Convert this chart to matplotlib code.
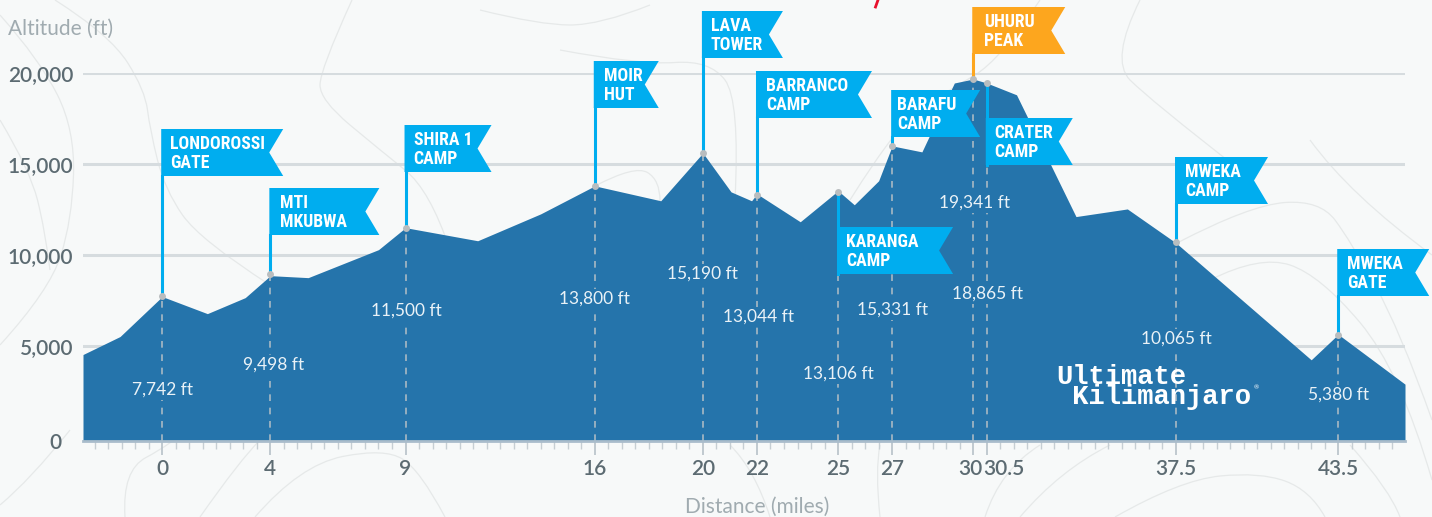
import matplotlib
matplotlib.use('Agg')
import matplotlib.pyplot as plt
from matplotlib.patches import Polygon, PathPatch
from matplotlib.path import Path
from matplotlib.transforms import IdentityTransform

W, H = 1432, 517

# elevation profile
profile_miles = [-2.93, -1.56, 0, 1.67, 3.07, 4, 5.4, 8.0, 9, 11.67, 14, 16, 18.44, 20, 21.04, 21.8,
                 22, 23.6, 25, 25.6, 26.5, 27, 28.1, 29.3, 30, 30.5, 31.6, 33.8, 35.7, 37.5, 42.5, 43.5, 45.97]
profile_ft = [4510, 5500, 7700, 6760, 7640, 8850, 8740, 10280, 11490, 10770, 12250, 13790, 12970, 15600,
              13460, 12970, 13350, 11815, 13520, 12750, 14070, 15990, 15660, 19450, 19670, 19450,
              18800, 12100, 12520, 10650, 4220, 5620, 2880]

# camps
camp_names = ['LONDOROSSI\nGATE', 'MTI\nMKUBWA', 'SHIRA 1\nCAMP', 'MOIR\nHUT', 'LAVA\nTOWER', 'BARRANCO\nCAMP',
              'KARANGA\nCAMP', 'BARAFU\nCAMP', 'UHURU\nPEAK', 'CRATER\nCAMP', 'MWEKA\nCAMP', 'MWEKA\nGATE']
camp_miles = [0, 4, 9, 16, 20, 22, 25, 27, 30, 30.5, 37.5, 43.5]
camp_ft = [7750, 8930, 11490, 13790, 15620, 13300, 13450, 16000, 19670, 19430, 10700, 5600]
camp_labels = ['7,742 ft', '9,498 ft', '11,500 ft', '13,800 ft', '15,190 ft', '13,044 ft',
               '13,106 ft', '15,331 ft', '19,341 ft', '18,865 ft', '10,065 ft', '5,380 ft']

x_tick_miles = camp_miles
x_tick_labels = ['0', '4', '9', '16', '20', '22', '25', '27', '30', '30.5', '37.5', '43.5']
y_ticks = [0, 5000, 10000, 15000, 20000]
y_tick_labels = ['0', '5,000', '10,000', '15,000', '20,000']

# layout, pixels from the top of the image
flag_tops = [129, 188, 125, 61, 11, 71, 227, 90, 7, 118, 157, 249]
flag_widths = [122, 110, 87, 65, 81, 116, 116, 89, 93, 87, 93, 92]
flag_insets = [9, 11, 9, 10, 9, 10, 9, 6, 12, 8, 10, 10]
label_rows = [390, 365, 311, 299, 274, 317, 374, 310, 203, 294, 339, 395]
label_shift = [0, 3, 1, 0, 0, 2, 0, 0, 1, 1, 0, 0]
tick_shift = [0, 0, 0, 0, 0, 0, 0, 0, -3, 17, 0, 0]

# faint contour lines in the background
contours = [
    [(55, 0), (110, 35), (145, 90), (150, 130), (165, 190), (200, 240), (270, 285)],
    [(0, 15), (40, 60), (75, 130), (72, 220), (50, 290), (0, 345)],
    [(0, 120), (30, 170), (45, 230), (50, 270)],
    [(352, 0), (320, 70), (320, 100), (380, 150), (430, 190), (450, 250)],
    [(650, 5), (600, 25), (540, 25), (480, 10)],
    [(560, 50), (640, 65), (710, 60), (740, 100), (735, 200)],
    [(595, 186), (635, 165), (660, 180), (660, 201)],
    [(1140, 0), (1110, 60), (1150, 100), (1240, 170)],
    [(1040, 0), (1000, 60), (950, 90), (900, 120), (850, 200)],
    [(125, 517), (122, 470), (170, 445), (200, 420)],
    [(0, 505), (30, 480), (70, 430)],
    [(255, 517), (300, 465), (385, 448), (420, 470), (445, 517)],
    [(200, 517), (240, 460), (260, 440)],
    [(770, 517), (755, 470), (730, 445)],
    [(880, 517), (875, 470), (880, 445)],
    [(985, 517), (1000, 470), (1040, 445)],
    [(1020, 517), (1060, 470), (1110, 445)],
    [(1115, 517), (1180, 480), (1260, 472), (1310, 490), (1325, 517)],
    [(1310, 140), (1350, 195), (1432, 255)],
    [(1177, 243), (1250, 205), (1320, 200), (1350, 240), (1400, 330), (1432, 420)],
    [(1210, 280), (1260, 255), (1320, 275), (1400, 370), (1432, 480)],
    [(1350, 445), (1390, 490), (1400, 517)],
]

BLUE = '#00adef'
AREA = '#2574ab'
TEXT = '#5c6b72'
TITLE = '#a0abb0'
BG = '#f7f9f9'


def smooth_path(pts):
    # quadratic segments through the midpoints of the control points
    verts = [pts[0]]
    codes = [Path.MOVETO]
    for i in range(1, len(pts) - 1):
        end = pts[i + 1] if i == len(pts) - 2 else ((pts[i][0] + pts[i + 1][0]) / 2, (pts[i][1] + pts[i + 1][1]) / 2)
        verts += [pts[i], end]
        codes += [Path.CURVE3, Path.CURVE3]
    return Path([(x, H - y) for x, y in verts], codes)


plt.rcParams['font.family'] = ['Lato', 'DejaVu Sans']

fig = plt.figure(figsize=(W / 100, H / 100), dpi=100, facecolor=BG)
ax = fig.add_axes([83 / W, (H - 441) / H, (1405 - 83) / W, (441 - 73) / H])
ax.patch.set_alpha(0)
ax.set_xlim(-2.93, 45.97)
ax.set_ylim(-248, 20000)

for pts in contours:
    fig.add_artist(PathPatch(smooth_path(pts), fc='none', ec='#e6e9e9', lw=0.9,
                             transform=IdentityTransform(), zorder=-5))

for v in y_ticks[1:]:
    ax.axhline(v, color='#d6dcdf', lw=2.2, zorder=1)
ax.fill_between(profile_miles, -248, profile_ft, color=AREA, lw=0, zorder=2)

for s in ['top', 'left', 'right']:
    ax.spines[s].set_visible(False)
ax.spines['bottom'].set_color('#a9bccb')
ax.spines['bottom'].set_linewidth(2)
ax.spines['bottom'].set_zorder(6)

ax.set_yticks(y_ticks[1:], y_tick_labels[1:])
ax.tick_params(axis='y', length=0, pad=7, labelsize=15, labelcolor=TEXT)
for lbl in ax.get_yticklabels():
    lbl.set_fontweight('semibold')
ax.set_xticks(x_tick_miles, [''] * len(x_tick_miles))
ax.set_xticks([m / 2 for m in range(-5, 92) if m / 2 not in x_tick_miles], minor=True)
ax.tick_params(axis='x', which='major', length=10, width=1.2, color='#b7c1c8')
ax.tick_params(axis='x', which='minor', length=6, width=1, color='#c6ced3')
ax.annotate(y_tick_labels[0], (0, 0), xycoords=ax.get_yaxis_transform(), xytext=(-22, -7), textcoords='offset pixels',
            ha='right', va='center', fontsize=15, color=TEXT, fontweight='semibold')

for m, lab, dx in zip(x_tick_miles, x_tick_labels, tick_shift):
    ax.annotate(lab, (m, 0), xycoords=ax.get_xaxis_transform(), xytext=(dx, -28), textcoords='offset pixels',
                ha='center', va='center', fontsize=15, color=TEXT, fontweight='semibold')

fig.text(8 / W, 1 - 29 / H, 'Altitude (ft)', fontsize=15, color=TITLE, va='center')
fig.text(757 / W, 1 - 507 / H, 'Distance (miles)', fontsize=15, color=TITLE, ha='center', va='center')

fig.canvas.draw()
for i, name in enumerate(camp_names):
    m, ft = camp_miles[i], camp_ft[i]
    ax.plot([m, m], [-248, ft], color='#a9b9c4', lw=1.2, dashes=(4, 4), zorder=3)
    px = ax.transData.transform((m, ft))
    col = '#fda61e' if name.startswith('UHURU') else BLUE
    top = H - flag_tops[i]
    bot = top - 47
    x0 = px[0] - 1
    fig.add_artist(plt.Line2D([px[0], px[0]], [px[1], bot], color=col, lw=2.2, transform=IdentityTransform(), zorder=7))
    w = flag_widths[i]
    fig.add_artist(Polygon([(x0, top), (x0 + w, top), (x0 + w - 14, top - 23.5), (x0 + w, bot), (x0, bot)], closed=True,
                           fc=col, ec='none', transform=IdentityTransform(), zorder=8))
    fig.text((x0 + flag_insets[i]) / W, (top - 24.5) / H, name, color='white', fontsize=12.8, fontweight='bold',
             family=['Roboto Condensed', 'Liberation Sans Narrow', 'Roboto'], va='center', linespacing=1.1, zorder=9)
    fig.add_artist(plt.Line2D([px[0]], [px[1]], marker='o', ms=5, color='#b9bdbf', mew=0, transform=IdentityTransform(), zorder=10))
    fig.text((px[0] + label_shift[i]) / W, 1 - label_rows[i] / H, camp_labels[i], color='#eaf2f7', fontsize=12.5, ha='center',
             va='center', zorder=5, bbox=dict(fc=AREA, ec='none', pad=1.5))

# logo, one text block with the second line stepped in
fig.text(1056 / W, 1 - 404 / H, 'Ultimate\n Kilimanjaro', color='white', fontsize=19.5, fontweight='bold',
         family=['Liberation Mono', 'DejaVu Sans Mono'], va='baseline', linespacing=0.72, zorder=5)
fig.text(1254 / W, 1 - 388 / H, '®', color='white', fontsize=4.5, va='center', zorder=5)

fig.add_artist(plt.Line2D([878, 875.5], [H, H - 7], color='#e8112d', lw=2, transform=IdentityTransform()))

fig.savefig('out.png', dpi=100, facecolor=BG)
